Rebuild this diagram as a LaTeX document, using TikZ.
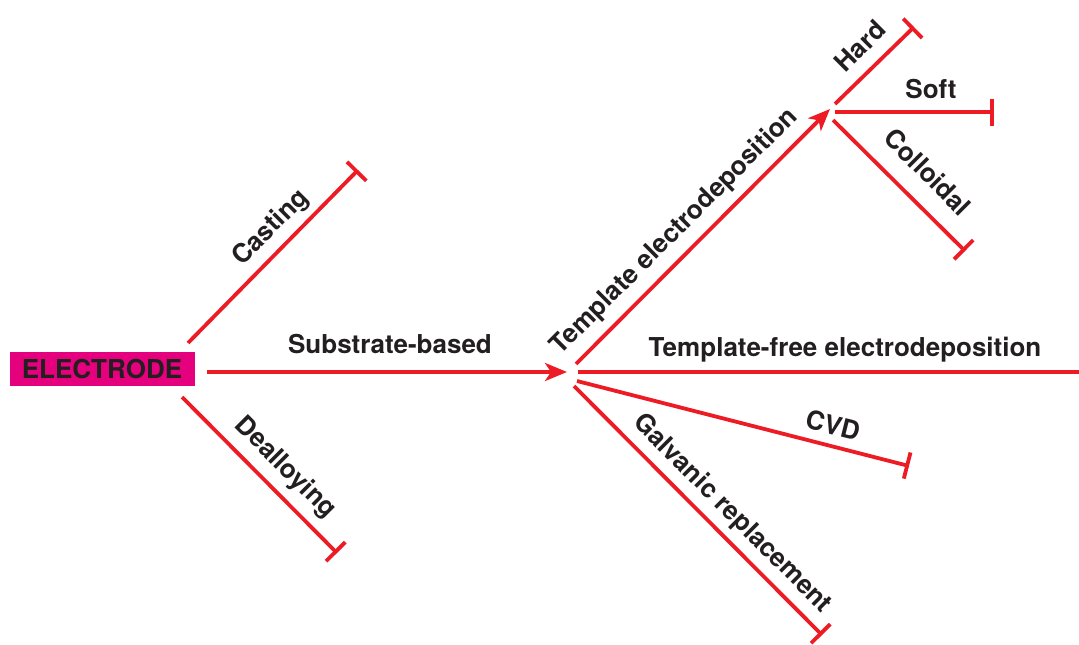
\documentclass[tikz,border=0pt]{standalone}
\usepackage{fontspec}
\setmainfont{TeX Gyre Heros}
\usetikzlibrary{arrows.meta}
\definecolor{lnred}{HTML}{ED1C24}
\definecolor{boxmag}{HTML}{E5007E}
\definecolor{txtgray}{HTML}{231F20}
\begin{document}
\begin{tikzpicture}[
	x=1pt, y=-1pt,
	line cap=butt,
	line join=miter,
	branch/.style={draw=lnred, line width=3.8pt},
	stop/.style={branch, -{Bar[width=27pt]}},
	go/.style={branch, -{Stealth[length=22pt,width=18pt,inset=6pt]}},
	lbl/.style={text=txtgray, font=\fontsize{26}{31}\selectfont\bfseries, inner sep=0pt}
	]
	\useasboundingbox (0,0) rectangle (1079,645);
	
	% Hộp gốc
	\node[fill=boxmag, minimum width=185pt, minimum height=34pt, lbl] (E) at (102,369) {ELECTRODE};
	
	% Các điểm đầu và cuối nhánh chính
	\coordinate (C0) at (188,343);
	\coordinate (C1) at (358,170);
	\coordinate (D0) at (182,397);
	\coordinate (D1) at (337,553);
	\coordinate (S0) at (207,372);
	\coordinate (S1) at (567,372);
	
	% Nút phân nhánh thứ nhất
	\coordinate (T0) at (576,364);
	\coordinate (T1) at (830,109);
	\coordinate (F0) at (578,372);
	\coordinate (F1) at (1079,372);
	\coordinate (V0) at (577,381);
	\coordinate (V1) at (909,466);
	\coordinate (G0) at (574,386);
	\coordinate (G1) at (822,635);
	
	% Nút phân nhánh thứ hai
	\coordinate (H0) at (835,104);
	\coordinate (H1) at (914,27);
	\coordinate (P0) at (835,112);
	\coordinate (P1) at (994,112);
	\coordinate (K0) at (833,120);
	\coordinate (K1) at (965,251);
	
	% Các nhánh
	\draw[stop] (C0) -- (C1);
	\draw[stop] (D0) -- (D1);
	\draw[go] (S0) -- (S1);
	\draw[go] (T0) -- (T1);
	\draw[branch] (F0) -- (F1);
	\draw[stop] (V0) -- (V1);
	\draw[stop] (G0) -- (G1);
	\draw[stop] (H0) -- (H1);
	\draw[stop] (P0) -- (P1);
	\draw[stop] (K0) -- (K1);
	
	% Nhãn
	\node[lbl, rotate=45] (cast) at (271,228) {Casting};
	\node[lbl, rotate=-45] (deal) at (285,468) {Dealloying};
	\node[lbl] (sub) at (390,344) {Substrate-based};
	\node[lbl, rotate=45] (temp) at (675,232) {Template electrodeposition};
	\node[lbl] (tfree) at (845,350) {Template-free electrodeposition};
	\node[lbl, rotate=-14] (cvd) at (833,425) {CVD};
	\node[lbl, rotate=-45] (galv) at (732,514) {Galvanic replacement};
	\node[lbl, rotate=45] (hard) at (860,46) {Hard};
	\node[lbl] (soft) at (931,89) {Soft};
	\node[lbl, rotate=-45] (coll) at (928,172) {Colloidal};
	
\end{tikzpicture}
\end{document}
